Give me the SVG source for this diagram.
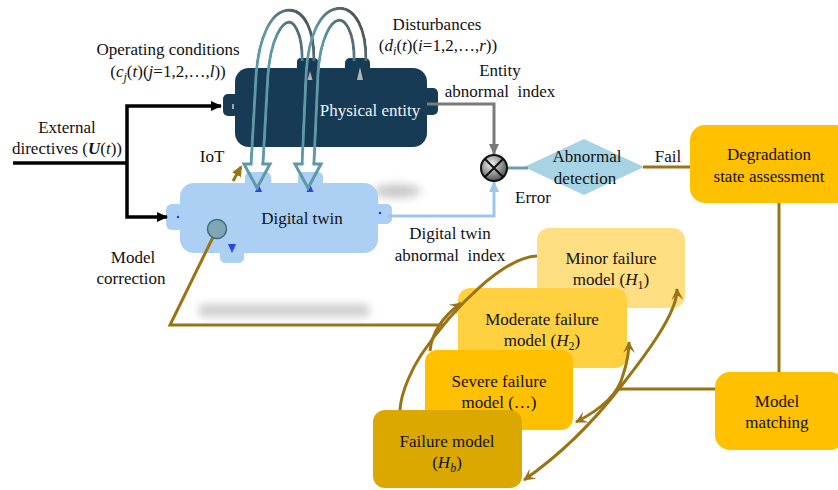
<svg xmlns="http://www.w3.org/2000/svg" xmlns:xlink="http://www.w3.org/1999/xlink" width="838" height="490" viewBox="0 0 838 490" font-family="Liberation Serif, Times New Roman, serif">
  <style>
    text { font-size: 17px; fill: #111; }
    .m { text-anchor: middle; }
    .i { font-style: italic; }
    .b { font-weight: bold; }
    .s { font-size: 12px; }
    .light { fill: #eef3f7; }
    .brown { fill: none; stroke: #9a7414; stroke-width: 3; }
    .blk { fill: none; stroke: #000; stroke-width: 3.5; }
  </style>
  <defs>
    <!-- arrowheads -->
    <marker id="hBlack" markerUnits="userSpaceOnUse" markerWidth="12" markerHeight="10" refX="10" refY="5" orient="auto-start-reverse">
      <path d="M0,0 L11,5 L0,10 z" fill="#000"/>
    </marker>
    <marker id="hGray" markerUnits="userSpaceOnUse" markerWidth="12" markerHeight="10" refX="10" refY="5" orient="auto">
      <path d="M0,0 L11,5 L0,10 z" fill="#7a7a7a"/>
    </marker>
    <marker id="hBlue" markerUnits="userSpaceOnUse" markerWidth="12" markerHeight="10" refX="10" refY="5" orient="auto">
      <path d="M0,0 L11,5 L0,10 z" fill="#9cc6ec"/>
    </marker>
    <marker id="hBrownSolid" markerUnits="userSpaceOnUse" markerWidth="12" markerHeight="10" refX="9" refY="5" orient="auto">
      <path d="M0,0 L11,5 L0,10 z" fill="#9a7414"/>
    </marker>
    <marker id="hBrown" markerUnits="userSpaceOnUse" markerWidth="13" markerHeight="12" refX="11" refY="6" orient="auto-start-reverse">
      <path d="M0,0 L12,6 L0,12 L5,6 z" fill="#9a7414"/>
    </marker>

    <!-- centrelines of the two hollow feedback arrows -->
    <path id="tube1" d="M 308 61 C 309 0, 268 -2, 262 75 L 257 164" fill="none"/>
    <path id="tube2" d="M 360 61 C 361 -3, 316 -4, 312 75 L 308 164" fill="none"/>
    <mask id="mTube1" maskUnits="userSpaceOnUse" x="0" y="0" width="838" height="490">
      <use xlink:href="#tube1" stroke="#fff" stroke-width="15"/>
      <use xlink:href="#tube1" stroke="#000" stroke-width="9"/>
    </mask>
    <mask id="mTube2" maskUnits="userSpaceOnUse" x="0" y="0" width="838" height="490">
      <use xlink:href="#tube2" stroke="#fff" stroke-width="15"/>
      <use xlink:href="#tube2" stroke="#000" stroke-width="9"/>
    </mask>
    <linearGradient id="gTube1" gradientUnits="userSpaceOnUse" x1="306" y1="20" x2="272" y2="40">
      <stop offset="0" stop-color="#4e585c"/>
      <stop offset="1" stop-color="#5f98a7"/>
    </linearGradient>
    <linearGradient id="gTube2" gradientUnits="userSpaceOnUse" x1="357" y1="20" x2="322" y2="40">
      <stop offset="0" stop-color="#4e585c"/>
      <stop offset="1" stop-color="#5f98a7"/>
    </linearGradient>

    <radialGradient id="gCross" cx="0.4" cy="0.35" r="0.7">
      <stop offset="0" stop-color="#f2f2f2"/>
      <stop offset="1" stop-color="#4a4a4a"/>
    </radialGradient>

    <filter id="soft" x="-30%" y="-100%" width="160%" height="300%">
      <feGaussianBlur stdDeviation="4"/>
    </filter>
  </defs>

  <rect width="838" height="490" fill="#fff"/>

  <!-- soft grey shadows -->
  <ellipse cx="397" cy="191" rx="24" ry="7" fill="#c9c9c9" filter="url(#soft)"/>
  <rect x="198" y="304" width="172" height="13" rx="6" fill="#cfcfcf" filter="url(#soft)"/>

  <!-- Physical entity -->
  <g id="physical-entity">
    <rect x="223" y="94" width="16" height="22" rx="5" fill="#173b55"/>
    <rect x="423" y="88" width="15" height="27" rx="5" fill="#173b55"/>
    <rect x="297" y="58" width="21" height="18" rx="4" fill="#173b55"/>
    <rect x="345" y="58" width="25" height="18" rx="5" fill="#173b55"/>
    <rect x="235" y="68" width="192" height="79" rx="14" fill="#173b55"/>
    <polygon points="310,71 312.5,80 307.5,80" fill="#b4b4b4"/>
    <polygon points="360,67 363,80 357,80" fill="#b4b4b4"/>
    <rect x="232" y="104" width="2" height="5" fill="#9aa6ae"/>
    <text class="m light" x="370" y="116">Physical entity</text>
  </g>

  <!-- Digital twin -->
  <g id="digital-twin">
    <rect x="166" y="204" width="18" height="26" rx="6" fill="#abd0f3"/>
    <rect x="374" y="204" width="18" height="20" rx="5" fill="#abd0f3"/>
    <rect x="245" y="172" width="26" height="16" rx="5" fill="#abd0f3"/>
    <rect x="298" y="172" width="25" height="16" rx="5" fill="#abd0f3"/>
    <rect x="220" y="248" width="24" height="15" rx="5" fill="#abd0f3"/>
    <rect x="180" y="183" width="198" height="70" rx="14" fill="#abd0f3"/>
    <polygon points="258.5,184 262,192 255,192" fill="#2741f0"/>
    <polygon points="310,184 313.5,192 306.5,192" fill="#2741f0"/>
    <polygon points="228,244 236,244 232,253" fill="#2741f0"/>
    <circle cx="178" cy="217" r="1.3" fill="#2741f0"/>
    <circle cx="380" cy="213" r="1.3" fill="#2741f0"/>
    <text class="m" x="302" y="224">Digital twin</text>
  </g>

  <!-- Abnormal detection -->
  <g id="abnormal-detection">
    <polygon points="524,167 584,139 644,167 584,195" fill="#a7d4e5"/>
    <text class="m" x="587" y="162">Abnormal</text>
    <text class="m" x="585" y="184">detection</text>
  </g>

  <!-- Degradation state assessment -->
  <g id="degradation-assessment">
    <rect x="690" y="125" width="160" height="78" rx="15" fill="#ffc000"/>
    <text class="m" x="769" y="160">Degradation</text>
    <text class="m" x="769" y="182">state assessment</text>
  </g>

  <!-- Model matching -->
  <g id="model-matching">
    <rect x="715" y="372" width="130" height="78" rx="15" fill="#ffc000"/>
    <text class="m" x="777" y="407">Model</text>
    <text class="m" x="777" y="428">matching</text>
  </g>

  <!-- connectors -->
  <g id="connectors">
    <!-- external directives -->
    <path class="blk" d="M 13 163 L 127 163"/>
    <path class="blk" d="M 221 106 L 127 106 L 127 217 L 167 217" marker-start="url(#hBlack)" marker-end="url(#hBlack)"/>
    <!-- entity abnormal index -->
    <path d="M 427 104 L 494 104 L 494 154" fill="none" stroke="#7a7a7a" stroke-width="3" marker-end="url(#hGray)"/>
    <!-- digital twin abnormal index -->
    <path d="M 388 216 L 494 216 L 494 182" fill="none" stroke="#9cc6ec" stroke-width="3" marker-end="url(#hBlue)"/>
    <!-- error to detection -->
    <path d="M 507 168 L 528 168" fill="none" stroke="#6f9db0" stroke-width="3"/>
    <!-- fail -->
    <path class="brown" d="M 643 167 L 690 167"/>
    <!-- assessment to matching -->
    <path class="brown" d="M 779 203 L 779 372"/>
    <!-- matching to failure models -->
    <path class="brown" d="M 715 389 L 617 389"/>
    <!-- IoT -->
    <path class="brown" d="M 233 181 L 241 167" marker-end="url(#hBrownSolid)"/>
    <!-- model correction -->
    <path class="brown" d="M 217 229 L 170 325 L 443 325"/>
  </g>

  <!-- failure models -->
  <g id="minor-failure-model">
    <rect x="537" y="228" width="148" height="80" rx="12" fill="#ffdf82"/>
    <text class="m" x="611" y="264">Minor failure</text>
    <text class="m" x="611" y="285">model (<tspan class="i">H</tspan><tspan class="s" dy="4">1</tspan><tspan dy="-4">)</tspan></text>
  </g>
  <g id="moderate-failure-model">
    <rect x="458" y="288" width="169" height="80" rx="12" fill="#ffd140"/>
    <text class="m" x="542" y="325">Moderate failure</text>
    <text class="m" x="542" y="346">model (<tspan class="i">H</tspan><tspan class="s" dy="4">2</tspan><tspan dy="-4">)</tspan></text>
  </g>
  <g id="severe-failure-model">
    <rect x="425" y="350" width="148" height="80" rx="12" fill="#ffc000"/>
    <text class="m" x="499" y="387">Severe failure</text>
    <text class="m" x="499" y="408">model (…)</text>
  </g>
  <g id="failure-model">
    <rect x="373" y="410" width="149" height="78" rx="12" fill="#dba800"/>
    <text class="m" x="447" y="447">Failure model</text>
    <text class="m" x="447" y="468">(<tspan class="i">H</tspan><tspan class="i s" dy="4">b</tspan><tspan dy="-4">)</tspan></text>
  </g>

  <!-- loops between failure models -->
  <g id="model-loops">
    <path class="brown" d="M 537 256 C 505 257, 455 305, 421 355 C 414.5 365, 401 390, 400 410"/>
    <path class="brown" d="M 461 303 C 445 315, 432 330, 430 351" marker-start="url(#hBrown)"/>
    <path class="brown" d="M 524 480 C 560 455, 595 420, 622 385 C 636 367, 678 315, 677 289" marker-start="url(#hBrown)" marker-end="url(#hBrown)"/>
    <path class="brown" d="M 576 422 C 600 410, 618 395, 623 375 C 628 360, 629 352, 629 342" marker-start="url(#hBrown)" marker-end="url(#hBrown)"/>
  </g>

  <!-- hollow feedback arrows from the entity to the twin -->
  <g id="feedback-arrows">
    <g mask="url(#mTube1)">
      <use xlink:href="#tube1" stroke="url(#gTube1)" stroke-width="15"/>
    </g>
    <polyline points="252.5,164 244,164 257,188 270,164 261.5,164" fill="none" stroke="#5f98a7" stroke-width="3" stroke-linejoin="miter"/>
    <g mask="url(#mTube2)">
      <use xlink:href="#tube2" stroke="url(#gTube2)" stroke-width="15"/>
    </g>
    <polyline points="303.5,164 295,164 308,188 321,164 312.5,164" fill="none" stroke="#5f98a7" stroke-width="3" stroke-linejoin="miter"/>
  </g>

  <!-- comparison node -->
  <g id="comparator">
    <circle cx="494" cy="168" r="13" fill="url(#gCross)" stroke="#111" stroke-width="2"/>
    <path d="M 485 159 L 503 177 M 503 159 L 485 177" stroke="#111" stroke-width="2"/>
  </g>

  <!-- correction port -->
  <g id="correction-port">
    <circle cx="217" cy="229" r="9.5" fill="#7fa6b4" stroke="#3d6e7c" stroke-width="1.5"/>
  </g>

  <!-- labels -->
  <g id="labels">
    <text class="m" x="168" y="55">Operating conditions</text>
    <text class="m" x="168" y="77">(<tspan class="i">c</tspan><tspan class="i s" dy="4">j</tspan><tspan dy="-4">(</tspan><tspan class="i">t</tspan>)(<tspan class="i">j</tspan>=1,2,…,<tspan class="i">l</tspan>))</text>
    <text class="m" x="437" y="30">Disturbances</text>
    <text class="m" x="438" y="51">(<tspan class="i">d</tspan><tspan class="i s" dy="4">i</tspan><tspan dy="-4">(</tspan><tspan class="i">t</tspan>)(<tspan class="i">i</tspan>=1,2,…,<tspan class="i">r</tspan>))</text>
    <text class="m" x="500" y="76">Entity</text>
    <text class="m" x="500" y="97">abnormal&#160; index</text>
    <text class="m" x="67" y="133">External</text>
    <text class="m" x="67" y="154">directives (<tspan class="i b">U</tspan>(<tspan class="i">t</tspan>))</text>
    <text class="m" x="212" y="162">IoT</text>
    <text class="m" x="133" y="263">Model</text>
    <text class="m" x="131" y="284">correction</text>
    <text class="m" x="450" y="239">Digital twin</text>
    <text class="m" x="450" y="261">abnormal&#160; index</text>
    <text class="m" x="533" y="203">Error</text>
    <text class="m" x="668" y="162">Fail</text>
  </g>
</svg>
